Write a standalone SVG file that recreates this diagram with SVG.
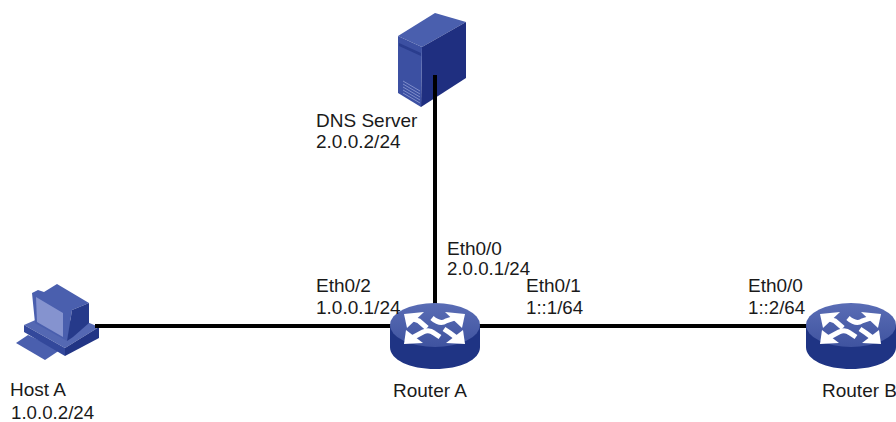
<svg xmlns="http://www.w3.org/2000/svg" width="896" height="422" viewBox="0 0 896 422">
<style>
text{font-family:"Liberation Sans",Arial,sans-serif;font-size:19px;fill:#1a1a1a}
.ip{font-size:18.7px}
.link{stroke:#000;stroke-width:4;fill:none}
.stem{stroke:#fff;stroke-width:5;fill:none}
.head{fill:#fff}
.vent{stroke:#7f8dca;stroke-width:1;fill:none}
</style>
<defs>
<linearGradient id="top" x1="0" y1="0" x2="0" y2="1"><stop offset="0" stop-color="#5a6db5"/><stop offset="1" stop-color="#3f539f"/></linearGradient>
<g id="router">
<path d="M0 22V44C0 57 20 66 45 66S90 57 90 44V22Z" fill="#1f3484"/>
<ellipse cx="45" cy="22" rx="45" ry="22" fill="url(#top)"/>
<path class="head" d="M14 11L34 9L17 25Z"/>
<path class="stem" d="M20 15L29 18L37 25"/>
<path class="head" d="M75 11L55 9L72 25Z"/>
<path class="stem" d="M42 15Q50 22 56 18L68 14"/>
<path class="head" d="M14 41L33 40L16 27Z"/>
<path class="stem" d="M20 36L33 29Q39 26 44 30L50 34"/>
<path class="head" d="M75 41L56 40L73 27Z"/>
<path class="stem" d="M68 36L60 30L54 26"/>
</g>
</defs>
<g id="host-a">
<path d="M16 343L28 335L60 350L45 360Z" fill="#4a5fae"/>
<path d="M24 325L40 318L87 322L99 327L65 348Z" fill="#5468b3"/>
<path d="M24 325L65 348V356L24 332Z" fill="#33489b"/>
<path d="M65 348L99 327V338L65 356Z" fill="#223585"/>
<path d="M32 293L38 290L44 292L57 284L89 303L72 310L67 341L35 323Z" fill="#4a5fae"/>
<path d="M72 310L89 303V323L73 337L67 341Z" fill="#263a8a"/>
<path d="M36 297L63 313V337L37 322Z" fill="#8593cf"/>
</g>
<g id="dns-server">
<path d="M398 36L435 13L466 22L422 47Z" fill="#4a5fae"/>
<path d="M422 47L466 22V78L421 107Z" fill="#1f2f80"/>
<path d="M398 36L422 47L421 107L398 93Z" fill="#3c50a2"/>
<path d="M399 43L421 53V56L399 46Z" fill="#2a3d8e"/>
<path class="vent" d="M403 81L420 91M403 84L420 94M403 87L420 97M403 90L420 100M403 93L420 103"/>
</g>
<g id="connectors">
<path class="link" d="M435 75V305"/>
<path class="link" d="M95 326H810"/>
</g>
<g id="router-a"><use href="#router" x="390" y="303"/></g>
<g id="router-b"><use href="#router" x="806" y="303"/></g>
<g id="labels">
<text x="316" y="127">DNS Server</text>
<text x="316" y="148">2.0.0.2/24</text>
<text x="447" y="255">Eth0/0</text>
<text class="ip" x="447" y="275">2.0.0.1/24</text>
<text x="316" y="292">Eth0/2</text>
<text x="316" y="314">1.0.0.1/24</text>
<text x="526" y="292">Eth0/1</text>
<text class="ip" x="526" y="314">1::1/64</text>
<text x="748" y="292">Eth0/0</text>
<text class="ip" x="748" y="314">1::2/64</text>
<text x="10" y="396">Host A</text>
<text class="ip" x="11" y="419">1.0.0.2/24</text>
<text x="393" y="397">Router A</text>
<text x="822" y="397">Router B</text>
</g>
</svg>
